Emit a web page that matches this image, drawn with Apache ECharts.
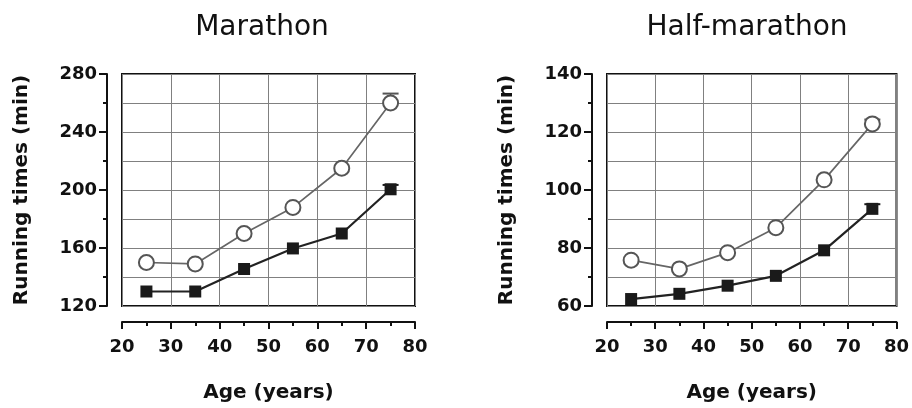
<!DOCTYPE html>
<html>
<head>
<meta charset="utf-8">
<script src="https://cdn.jsdelivr.net/npm/echarts@6/dist/echarts.min.js"></script>
<style>
html,body{margin:0;padding:0;background:#fff;}
#chart{width:912px;height:408px;}
</style>
</head>
<body>
<div id="chart"></div>
<script>
// ---- data ----
const ages = [25, 35, 45, 55, 65, 75];
const xTicks = [20, 30, 40, 50, 60, 70, 80];
const marathonOpen = [150, 149, 170, 188, 215, 260];
const marathonOpenErr = [0, 0, 0, 0, 0, 6.5];
const marathonFilled = [130, 130, 145.5, 159.7, 170, 200.5];
const marathonFilledErr = [0, 0, 0, 0, 0, 3];
const halfOpen = [75.8, 72.8, 78.4, 87, 103.5, 122.8];
const halfOpenErr = [0, 0, 0, 0, 0, 1.5];
const halfFilled = [62.4, 64.2, 67, 70.4, 79.2, 93.5];
const halfFilledErr = [0, 0, 0, 0, 0, 1.6];
const marathonYTicks = [120, 160, 200, 240, 280];
const halfYTicks = [60, 80, 100, 120, 140];

const pairs = (xs, ys) => xs.map((x, i) => [x, ys[i]]);
const errPairs = (xs, ys, es) => xs.map((x, i) => [x, ys[i], ys[i] + es[i]]);

const FONT = 'DejaVu Sans';
const gridLine = { lineStyle: { color: '#808080', width: 1 } };

function xAxisFor(gi) {
  return {
    type: 'value', gridIndex: gi, min: xTicks[0], max: xTicks[xTicks.length - 1], interval: 10,
    offset: 16,
    axisLine: { show: true, onZero: false, lineStyle: { color: '#111', width: 2 } },
    axisTick: { show: true, length: 7, lineStyle: { color: '#111', width: 2 } },
    minorTick: { show: true, splitNumber: 2, length: 4, lineStyle: { color: '#111', width: 2 } },
    splitLine: { show: true, ...gridLine },
    axisLabel: { color: '#111', fontFamily: FONT, fontSize: 18, fontWeight: 'bold', margin: 16 },
    name: 'Age (years)', nameLocation: 'middle', nameGap: 61,
    nameTextStyle: { color: '#111', fontFamily: FONT, fontSize: 20, fontWeight: 'bold' }
  };
}
function yAxisFor(gi, ticks) {
  return {
    type: 'value', gridIndex: gi, min: ticks[0], max: ticks[ticks.length - 1],
    interval: ticks[1] - ticks[0],
    offset: 15,
    axisLine: { show: true, onZero: false, lineStyle: { color: '#111', width: 2 } },
    axisTick: { show: true, length: 8, lineStyle: { color: '#111', width: 2 } },
    minorTick: { show: true, splitNumber: 2, length: 4, lineStyle: { color: '#111', width: 2 } },
    splitLine: { show: true, ...gridLine },
    minorSplitLine: { show: true, ...gridLine },
    axisLabel: { color: '#111', fontFamily: FONT, fontSize: 18, fontWeight: 'bold', margin: 10 },
    name: 'Running times (min)', nameLocation: 'middle', nameRotate: 90, nameGap: 75,
    nameTextStyle: { color: '#111', fontFamily: FONT, fontSize: 20, fontWeight: 'bold' }
  };
}

function errSeries(gi, data, color) {
  return {
    type: 'custom', xAxisIndex: gi, yAxisIndex: gi, z: 1,
    data: data,
    encode: { x: 0, y: [1, 2] },
    renderItem: function (params, api) {
      if (api.value(2) <= api.value(1)) return null;
      const p0 = api.coord([api.value(0), api.value(1)]);
      const p1 = api.coord([api.value(0), api.value(2)]);
      const half = 8;
      return {
        type: 'group',
        children: [
          { type: 'line', shape: { x1: p0[0], y1: p0[1], x2: p1[0], y2: p1[1] }, style: { stroke: color, lineWidth: 1.5 } },
          { type: 'line', shape: { x1: p1[0] - half, y1: p1[1], x2: p1[0] + half, y2: p1[1] }, style: { stroke: color, lineWidth: 2 } }
        ]
      };
    }
  };
}
function openSeries(gi, data) {
  return {
    type: 'line', xAxisIndex: gi, yAxisIndex: gi, z: 3, data: data,
    symbol: 'circle', symbolSize: 15, showAllSymbol: true,
    lineStyle: { color: '#666', width: 1.7 },
    itemStyle: { color: '#fff', borderColor: '#555', borderWidth: 2 }
  };
}
function filledSeries(gi, data) {
  return {
    type: 'line', xAxisIndex: gi, yAxisIndex: gi, z: 4, data: data,
    symbol: 'rect', symbolSize: 12, showAllSymbol: true,
    lineStyle: { color: '#222', width: 2.2 },
    itemStyle: { color: '#1a1a1a', borderColor: '#1a1a1a', borderWidth: 0 }
  };
}

const chart = echarts.init(document.getElementById('chart'), null, { renderer: 'canvas' });
chart.setOption({
  animation: false,
  backgroundColor: '#fff',
  title: [
    { text: 'Marathon', left: 257, top: 9, textAlign: 'center',
      textStyle: { fontFamily: FONT, fontSize: 28, fontWeight: 'normal', color: '#111' } },
    { text: 'Half-marathon', left: 742, top: 9, textAlign: 'center',
      textStyle: { fontFamily: FONT, fontSize: 28, fontWeight: 'normal', color: '#111' } }
  ],
  grid: [
    { left: 122, top: 74, width: 293, height: 233, show: true, borderColor: '#111', borderWidth: 2, backgroundColor: 'transparent' },
    { left: 607, top: 74, width: 293, height: 233, show: true, borderColor: '#111', borderWidth: 2, backgroundColor: 'transparent' }
  ],
  xAxis: [xAxisFor(0), xAxisFor(1)],
  yAxis: [yAxisFor(0, marathonYTicks), yAxisFor(1, halfYTicks)],
  series: [
    errSeries(0, errPairs(ages, marathonOpen, marathonOpenErr), '#555'),
    errSeries(0, errPairs(ages, marathonFilled, marathonFilledErr), '#1a1a1a'),
    openSeries(0, pairs(ages, marathonOpen)),
    filledSeries(0, pairs(ages, marathonFilled)),
    errSeries(1, errPairs(ages, halfOpen, halfOpenErr), '#555'),
    errSeries(1, errPairs(ages, halfFilled, halfFilledErr), '#1a1a1a'),
    openSeries(1, pairs(ages, halfOpen)),
    filledSeries(1, pairs(ages, halfFilled))
  ]
});
</script>
</body>
</html>
